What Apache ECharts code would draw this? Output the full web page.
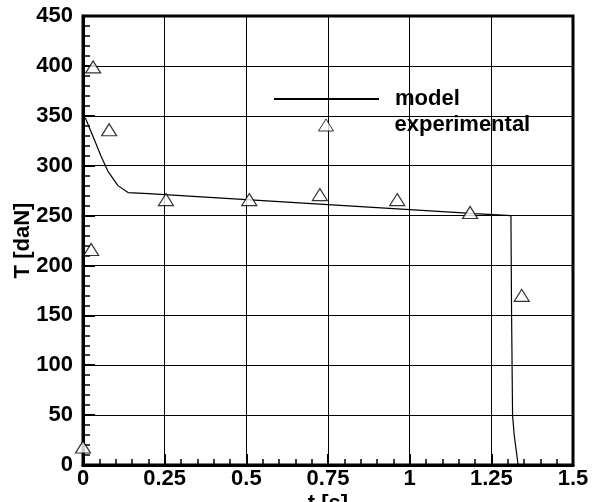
<!DOCTYPE html>
<html>
<head>
<meta charset="utf-8">
<script src="https://cdn.jsdelivr.net/npm/echarts@6/dist/echarts.min.js"></script>
<style>
  html, body { margin: 0; padding: 0; background: #fff; }
  #chart { width: 597px; height: 502px; }
</style>
</head>
<body>
<div id="chart"></div>
<script>
// Tension T [daN] over time t [s]: model curve and experimental measurements
const modelT = [0.007, 0.031, 0.056, 0.077, 0.107, 0.138, 0.2, 0.4, 0.6, 0.8, 1.0, 1.2, 1.31, 1.312, 1.315, 1.32, 1.332];
const modelForce = [348, 329, 309, 294, 280, 273, 272, 268, 264, 260, 256, 252, 250, 150, 50, 30, 0];

const expT = [0.0, 0.025, 0.031, 0.08, 0.254, 0.509, 0.725, 0.962, 1.185, 1.343];
const expForce = [18, 216, 399, 336, 266, 266, 271, 266, 253, 170];

const xTicks = [0, 0.25, 0.5, 0.75, 1, 1.25, 1.5];
const yTicks = [0, 50, 100, 150, 200, 250, 300, 350, 400, 450];

const FONT = '"Liberation Sans", Arial, Helvetica, sans-serif';

const chart = echarts.init(document.getElementById('chart'), null, { renderer: 'canvas' });

const pairs = (xs, ys) => xs.map((x, i) => [x, ys[i]]);

const legendText = pad => ({
  fontFamily: FONT, fontWeight: 'bold', fontSize: 22, color: '#000', padding: [0, 0, 0, pad]
});

chart.setOption({
  animation: false,
  backgroundColor: '#fff',
  grid: {
    left: 83, right: 24, top: 16, bottom: 37,
    containLabel: false, outerBoundsMode: 'none',
    show: true, borderColor: '#000', borderWidth: 3, backgroundColor: 'transparent'
  },
  legend: [
    {
      orient: 'vertical', left: 268, top: 83, padding: 5,
      itemWidth: 105, itemHeight: 14,
      textStyle: legendText(11),
      data: [{ name: 'model', itemStyle: { color: 'transparent', borderWidth: 0 } }]
    },
    {
      orient: 'vertical', left: 313, top: 109, padding: 5,
      itemWidth: 15, itemHeight: 12,
      textStyle: legendText(56),
      itemStyle: { borderWidth: 1 },
      data: ['experimental']
    }
  ],
  xAxis: {
    type: 'value',
    min: xTicks[0], max: xTicks[xTicks.length - 1], interval: 0.25,
    name: 't [s]', nameLocation: 'middle', nameGap: 28, nameMoveOverlap: false,
    nameTextStyle: { fontFamily: FONT, fontWeight: 'bold', fontSize: 22, color: '#000' },
    axisLine: { show: true, onZero: false, lineStyle: { color: '#000', width: 3 } },
    axisTick: { show: true, inside: true, length: 11, lineStyle: { color: '#000', width: 2 } },
    minorTick: { show: true, splitNumber: 5, length: 6, lineStyle: { color: '#000', width: 1.5 } },
    splitLine: { show: true, lineStyle: { color: '#000', width: 1 } },
    axisLabel: {
      margin: 3, fontFamily: FONT, fontWeight: 'bold', fontSize: 22, color: '#000',
      formatter: v => String(v)
    }
  },
  yAxis: {
    type: 'value',
    min: yTicks[0], max: yTicks[yTicks.length - 1], interval: 50,
    name: 'T [daN]', nameLocation: 'middle', nameGap: 49, nameRotate: 90, nameMoveOverlap: false,
    nameTextStyle: { fontFamily: FONT, fontWeight: 'bold', fontSize: 22, color: '#000' },
    axisLine: { show: true, onZero: false, lineStyle: { color: '#000', width: 3 } },
    axisTick: { show: true, inside: true, length: 12, lineStyle: { color: '#000', width: 2 } },
    minorTick: { show: true, splitNumber: 5, length: 7, lineStyle: { color: '#000', width: 1.5 } },
    splitLine: { show: true, lineStyle: { color: '#000', width: 1 } },
    axisLabel: { margin: 10, fontFamily: FONT, fontWeight: 'bold', fontSize: 22, color: '#000' }
  },
  series: [
    {
      name: 'model',
      type: 'line',
      data: pairs(modelT, modelForce),
      showSymbol: false,
      symbol: 'none',
      lineStyle: { color: '#000', width: 1.2 },
      itemStyle: { color: '#000' },
      z: 3
    },
    {
      name: 'experimental',
      type: 'scatter',
      data: pairs(expT, expForce),
      symbol: 'triangle',
      symbolSize: [15, 12],
      itemStyle: { color: '#fff', borderColor: '#000', borderWidth: 1.2 },
      z: 4
    }
  ]
});
</script>
</body>
</html>
